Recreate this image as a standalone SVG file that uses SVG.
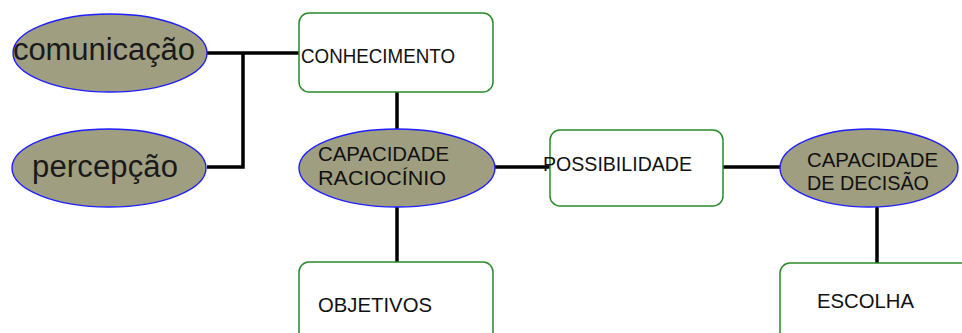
<svg xmlns="http://www.w3.org/2000/svg" width="962" height="333" viewBox="0 0 962 333">
<style>
.ell{fill:#a09e80;stroke:#1e1eff;stroke-width:1.4}
.box{fill:#fff;stroke:#2a8a2a;stroke-width:1.5}
.big{font-family:"Liberation Sans",Arial,sans-serif;font-size:31px;fill:#1a1a1a}
.t{font-family:"Liberation Sans",Arial,sans-serif;font-size:21px;fill:#111}
.c{fill:none;stroke:#000;stroke-width:3.5}
</style>
<rect width="962" height="333" fill="#fff"/>
<g id="connectors">
<path class="c" d="M207 53 H301"/>
<path class="c" d="M243 53 V167 H207"/>
<path class="c" d="M397 92 V129"/>
<path class="c" d="M397 207 V263"/>
<path class="c" d="M495 167 H551"/>
<path class="c" d="M723 167 H781"/>
<path class="c" d="M877 207 V263"/>
</g>
<g id="comunicacao">
<ellipse class="ell" cx="110" cy="53" rx="97" ry="39"/>
<text class="big" x="13" y="60" textLength="182" lengthAdjust="spacing">comunicação</text>
</g>
<g id="percepcao">
<ellipse class="ell" cx="109" cy="168" rx="97" ry="39"/>
<text class="big" x="32" y="177" textLength="146" lengthAdjust="spacing">percepção</text>
</g>
<g id="conhecimento">
<rect class="box" x="299" y="13" width="194" height="79" rx="10"/>
<text class="t" x="301" y="62.5" textLength="154" lengthAdjust="spacingAndGlyphs">CONHECIMENTO</text>
</g>
<g id="raciocinio">
<ellipse class="ell" cx="397" cy="168" rx="98" ry="39"/>
<text class="t" x="318" y="161" textLength="131" lengthAdjust="spacingAndGlyphs">CAPACIDADE</text>
<text class="t" x="318" y="185" textLength="128" lengthAdjust="spacingAndGlyphs">RACIOCÍNIO</text>
</g>
<g id="possibilidade">
<rect class="box" x="550" y="130" width="173" height="76" rx="10"/>
<text class="t" x="543" y="171" textLength="149" lengthAdjust="spacingAndGlyphs">POSSIBILIDADE</text>
</g>
<g id="decisao">
<ellipse class="ell" cx="869" cy="168" rx="89" ry="39"/>
<text class="t" x="807" y="167" textLength="131" lengthAdjust="spacingAndGlyphs">CAPACIDADE</text>
<text class="t" x="807" y="190" textLength="122" lengthAdjust="spacingAndGlyphs">DE DECISÃO</text>
</g>
<g id="objetivos">
<rect class="box" x="299" y="262" width="194" height="100" rx="10"/>
<text class="t" x="318" y="312" textLength="114" lengthAdjust="spacingAndGlyphs">OBJETIVOS</text>
</g>
<g id="escolha">
<rect class="box" x="780" y="263" width="220" height="100" rx="10"/>
<text class="t" x="817" y="308" textLength="97" lengthAdjust="spacingAndGlyphs">ESCOLHA</text>
</g>
</svg>
